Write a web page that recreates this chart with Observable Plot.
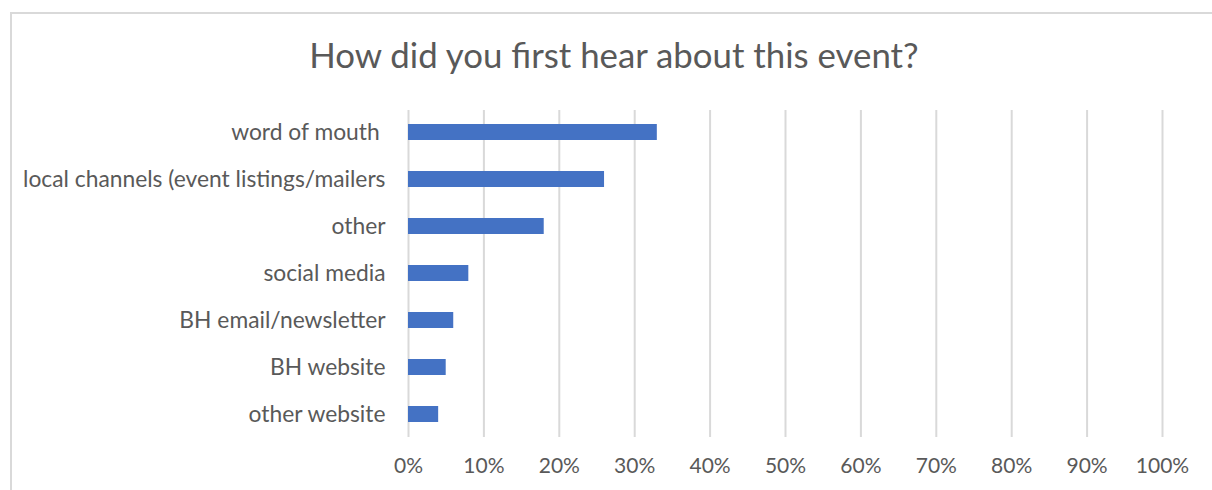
<!DOCTYPE html>
<html>
<head>
<meta charset="utf-8">
<script src="https://cdn.jsdelivr.net/npm/d3@7"></script>
<script src="https://cdn.jsdelivr.net/npm/@observablehq/plot@0.6"></script>
<style>
  html, body { margin: 0; padding: 0; background: #fff; width: 1212px; height: 490px; overflow: hidden; }
  #frame { position: absolute; left: 10px; top: 12px; width: 1220px; height: 500px; border-left: 2px solid #d9d9d9; border-top: 2px solid #d9d9d9; box-sizing: border-box; }
  #title { position: absolute; left: 0; top: 33px; width: 1228px; text-align: center; font-family: Lato, sans-serif; font-weight: 400; font-size: 34.8px; color: #595959; line-height: 44px; }
  #chart { position: absolute; left: 0; top: 0; }
</style>
</head>
<body>
<div id="frame"></div>
<div id="title">How did you first hear about this event?</div>
<div id="chart"></div>
<script>
const categories = [
  "word of mouth ",
  "local channels (event listings/mailers",
  "other",
  "social media",
  "BH email/newsletter",
  "BH website",
  "other website"
];
const shares = [0.33, 0.26, 0.18, 0.08, 0.06, 0.05, 0.04];
const xTicks = [0, 0.1, 0.2, 0.3, 0.4, 0.5, 0.6, 0.7, 0.8, 0.9, 1.0];

const data = categories.map((c, i) => ({category: c, share: shares[i]}));

const chart = Plot.plot({
  width: 1212,
  height: 490,
  marginLeft: 408,
  marginRight: 50,
  marginTop: 110,
  marginBottom: 53,
  style: {fontFamily: "Lato, sans-serif", fontSize: "21px", color: "#595959", background: "transparent"},
  x: {domain: [0, 1], ticks: xTicks, tickFormat: d3.format(".0%"), tickSize: 0, tickPadding: 20, label: null},
  y: {domain: categories, paddingInner: 0.657, paddingOuter: 0.3, tickSize: 0, tickPadding: 23, label: null},
  marks: [
    Plot.ruleX(xTicks, {stroke: "#d9d9d9", strokeWidth: 2}),
    Plot.barX(data, {x: "share", y: "category", fill: "#4472C4"}),
    Plot.axisX({ticks: xTicks, tickFormat: d3.format(".0%"), tickSize: 0, tickPadding: 21, fill: "#595959", fontSize: 21}),
    Plot.axisY({tickSize: 0, tickPadding: 23, fill: "#595959", fontSize: 22.8})
  ]
});
document.getElementById("chart").appendChild(chart);
</script>
</body>
</html>
